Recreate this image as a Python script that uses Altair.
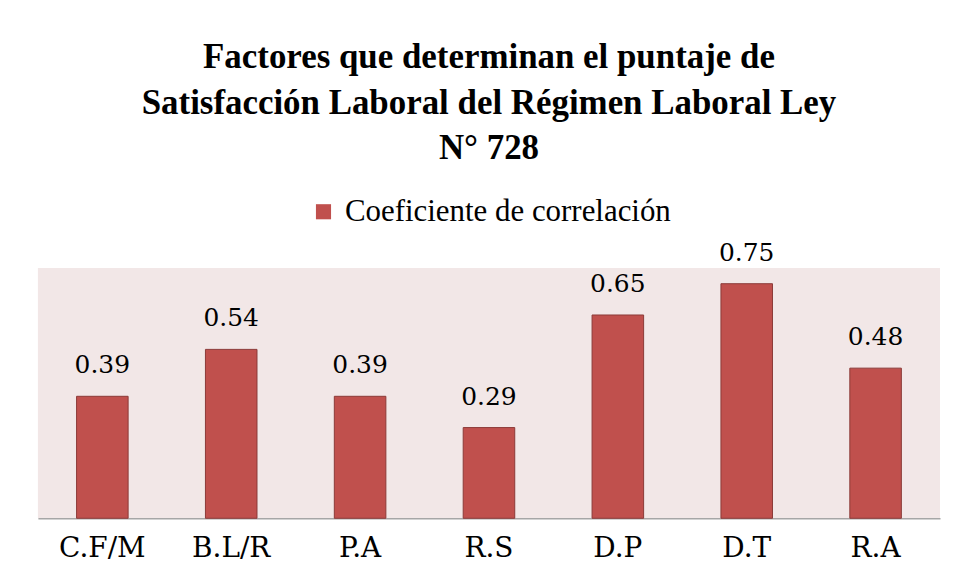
import altair as alt
import pandas as pd

categories = ["C.F/M", "B.L/R", "P.A", "R.S", "D.P", "D.T", "R.A"]
values = [0.39, 0.54, 0.39, 0.29, 0.65, 0.75, 0.48]
value_labels = ["0.39", "0.54", "0.39", "0.29", "0.65", "0.75", "0.48"]
series_name = "Coeficiente de correlación"
title_lines = [
    "Factores que determinan el puntaje de",
    "Satisfacción Laboral del Régimen Laboral  Ley",
    "N° 728",
]

df = pd.DataFrame({"cat": categories, "val": values, "lab": value_labels,
                   "serie": [series_name] * len(categories)})

x = alt.X("cat:N", sort=categories,
          scale=alt.Scale(paddingInner=0.6, paddingOuter=0.3),
          axis=alt.Axis(title=None, labelAngle=0, ticks=False,
                        labelFont="DejaVu Serif", labelFontSize=28,
                        labelColor="black", labelPadding=16,
                        domainColor="#A6A6A6", domainWidth=1.5))
y = alt.Y("val:Q", scale=alt.Scale(domain=[0, 0.8]), axis=None)

bars = alt.Chart(df).mark_bar(stroke="#8C3A38", strokeWidth=1).encode(
    x=x, y=y,
    color=alt.Color("serie:N", scale=alt.Scale(range=["#C0504D"]),
                    legend=alt.Legend(title=None, orient="none", legendX=271, legendY=-72,
                                      symbolType="square", symbolSize=230,
                                      labelFont="Liberation Serif", labelFontSize=31,
                                      labelLimit=600, labelOffset=6,
                                      labelColor="black", symbolStrokeWidth=0)))
text = alt.Chart(df).mark_text(baseline="bottom", dy=-18, font="DejaVu Serif",
                               fontSize=25, color="black").encode(x=x, y=y, text="lab:N")

chart = (bars + text).properties(
    width=905, height=251,
    title=alt.TitleParams(text=title_lines, font="Liberation Serif", fontSize=35,
                          fontWeight="bold", lineHeight=46, anchor="middle",
                          offset=30, color="black"),
    padding={"left": 30, "top": 260, "right": 10, "bottom": 55},
    autosize=alt.AutoSizeParams(type="none"),
).configure_view(fill="#F2E7E7", stroke=None)

chart.save("out.html", embed_options={"renderer": "svg", "actions": False})
